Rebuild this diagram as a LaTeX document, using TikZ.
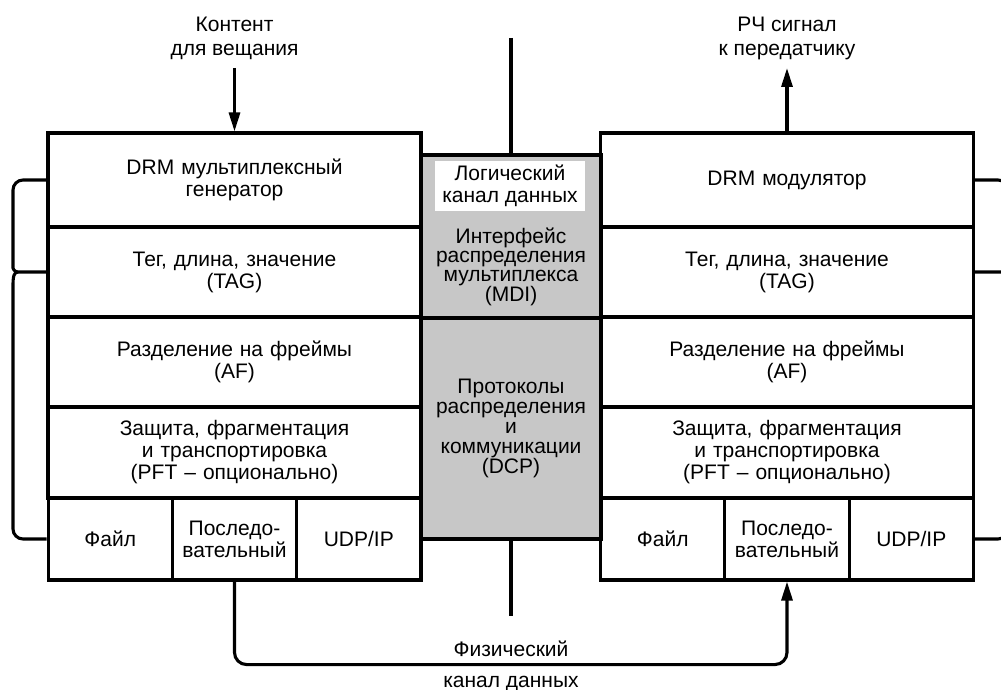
\documentclass[tikz,border=0pt]{standalone}
\usepackage{fontspec}
\setmainfont{Liberation Sans}
\usetikzlibrary{arrows.meta}

\tikzset{%
  tier/.style={
    rectangle,
    draw,
    line width=3.1pt,
    minimum width=373pt,
    text width=360pt,
    inner sep=0pt,
    align=center,
    font=\fontsize{21}{22}\selectfont
  },
  port/.style={
    tier,
    minimum width=124.3pt,
    minimum height=82pt,
    text width=118pt
  },
  mdi box/.style={
    rectangle,
    draw,
    fill=black!22,
    line width=3.1pt,
    minimum width=180pt,
    inner sep=0pt,
    align=center,
    font=\fontsize{21}{20}\selectfont
  },
  txt/.style={
    inner sep=0pt,
    align=center,
    font=\fontsize{21}{22}\selectfont
  },
  wire/.style={line width=3.1pt},
  feed/.style={wire, -{Triangle[length=19pt,width=11pt]}},
  bracket/.style={line width=3.1pt, line join=round},
}

\begin{document}
\begin{tikzpicture}[x=1pt,y=-1pt]
\useasboundingbox (0,0) rectangle (1001,690);

% middle column
\node[mdi box, minimum height=163pt] (mdi) at (511,236.5) {};
\node[mdi box, minimum height=221pt] (dcp) at (511,428.5) {Протоколы\\распределения\\и\\коммуникации\\(DCP)};
\node[txt, fill=white, minimum width=150pt, minimum height=50pt] (logch) at (510,186) {Логический\\канал данных};
\node[txt, font=\fontsize{21}{19}\selectfont] (mditxt) at (511,267) {Интерфейс\\распределения\\мультиплекса\\(MDI)};

% left stack
\node[tier, minimum height=94pt] (lmux) at (234.5,180) {DRM мультиплексный\\генератор};
\node[tier, minimum height=90pt] (ltag) at (234.5,272) {Тег, длина, значение\\(TAG)};
\node[tier, minimum height=90pt] (laf) at (234.5,362) {Разделение на фреймы\\(AF)};
\node[tier, minimum height=91pt] (lpft) at (234.5,452.5) {Защита, фрагментация\\и транспортировка\\(PFT – опционально)};
\node[port] (lfile) at (110.2,539) {Файл};
\node[port] (lser) at (234.5,539) {Последо-\\вательный};
\node[port] (ludp) at (358.8,539) {UDP/IP};

% right stack
\node[tier, minimum height=94pt] (rmod) at (787,180) {DRM модулятор};
\node[tier, minimum height=90pt] (rtag) at (787,272) {Тег, длина, значение\\(TAG)};
\node[tier, minimum height=90pt] (raf) at (787,362) {Разделение на фреймы\\(AF)};
\node[tier, minimum height=91pt] (rpft) at (787,452.5) {Защита, фрагментация\\и транспортировка\\(PFT – опционально)};
\node[port] (rfile) at (662.7,539) {Файл};
\node[port] (rser) at (787,539) {Последо-\\вательный};
\node[port] (rudp) at (911.3,539) {UDP/IP};

% inputs and outputs
\node[txt, font=\fontsize{21}{24}\selectfont] (content) at (234.5,38) {Контент\\для вещания};
\node[txt, font=\fontsize{21}{24}\selectfont] (rfsig) at (787,38) {РЧ сигнал\\к передатчику};
\coordinate (cin) at (234.5,68);
\coordinate (rfout) at (787,68);
\coordinate (logtop) at (511,38);
\coordinate (physbot) at (511,616);

\draw[feed] (cin) -- (lmux.north);
\draw[feed] (rmod.north) -- (rfout);
\draw[wire] (logtop) -- (mdi.north);
\draw[wire] (dcp.south) -- (physbot);
\draw[feed, rounded corners=12pt] (lser.south) -- ++(0,83) -| (rser.south);

\node[txt, anchor=base] (phys) at (511,656) {Физический};
\node[txt, anchor=base] (chan) at (511,687) {канал данных};

% braces
\coordinate (lcusp) at (18,272);
\draw[bracket] (lmux.west) [rounded corners=10pt] -- (13,180) -- (13,258) [sharp corners] .. controls (13,268) and (14,272) .. (lcusp) -- (ltag.west);
\draw[bracket] (lcusp) .. controls (14,272) and (13,276) .. (13,286) [rounded corners=10pt] -- (13,539) -- (lfile.west);

\begin{scope}
\clip (0,0) rectangle (1001,690);
\coordinate (rcusp) at (1003,272);
\draw[bracket] (rmod.east) [rounded corners=10pt] -- (1008,180) -- (1008,258) [sharp corners] .. controls (1008,268) and (1007,272) .. (rcusp) -- (rtag.east);
\draw[bracket] (rcusp) .. controls (1007,272) and (1008,276) .. (1008,286) [rounded corners=10pt] -- (1008,539) -- (rudp.east);
\end{scope}
\end{tikzpicture}
\end{document}
